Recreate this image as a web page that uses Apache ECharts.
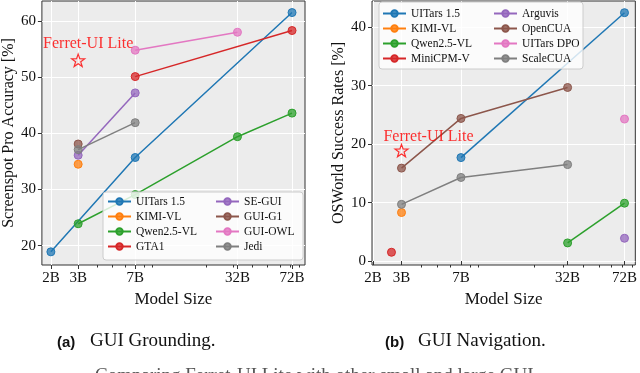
<!DOCTYPE html>
<html>
<head>
<meta charset="utf-8">
<script src="https://cdn.jsdelivr.net/npm/echarts@6/dist/echarts.min.js"></script>
<style>
  html, body { margin: 0; padding: 0; background: #fff; }
  #chart { width: 640px; height: 373px; }
</style>
</head>
<body>
<div id="chart"></div>
<script>
const sizeTicks = [2, 3, 7, 32, 72]
const minorTicks = [4, 5, 6, 8, 9, 20, 30, 40, 50, 60, 70, 80]
const groundTicks = [20, 30, 40, 50, 60]
const navTicks = [0, 10, 20, 30, 40]

// (a) GUI grounding: [model size in B, ScreenSpot-Pro accuracy %]
const groundUITars = [[2, 18.9], [7, 35.7], [72, 61.5]]
const groundKimi = [[3, 34.5]]
const groundQwen = [[3, 23.9], [7, 29.1], [32, 39.4], [72, 43.6]]
const groundGTA1 = [[7, 50.1], [72, 58.3]]
const groundSEGUI = [[3, 36.1], [7, 47.2]]
const groundG1 = [[3, 38.1]]
const groundOWL = [[7, 54.8], [32, 58.0]]
const groundJedi = [[3, 37.1], [7, 41.9]]
const groundFerret = [[3, 53.0]]

// (b) GUI navigation: [model size in B, OSWorld success %]
const navUITars = [[7, 17.7], [72, 42.5]]
const navKimi = [[3, 8.3]]
const navQwen = [[32, 3.1], [72, 9.9]]
const navMiniCPM = [[2.6, 1.5]]
const navArguvis = [[72, 3.9]]
const navOpenCUA = [[3, 15.9], [7, 24.4], [32, 29.7]]
const navDPO = [[72, 24.3]]
const navScaleCUA = [[3, 9.7], [7, 14.3], [32, 16.5]]
const navFerret = [[3, 18.9]]

const SERIF = 'Liberation Serif'
const C = {
  blue: '#1f77b4', orange: '#ff7f0e', green: '#2ca02c', red: '#d62728',
  purple: '#9467bd', brown: '#8c564b', pink: '#e377c2', gray: '#7f7f7f'
}
const STAR = 'path://M0,-10L2.35,-3.24L9.51,-3.09L3.8,1.24L5.88,8.09L0,4L-5.88,8.09L-3.8,1.24L-9.51,-3.09L-2.35,-3.24Z'

function fade(hex) {
  const n = parseInt(hex.slice(1), 16)
  return `rgba(${n >> 16},${(n >> 8) & 255},${n & 255},0.75)`
}

function line(name, data, color, idx) {
  return {
    name,
    type: 'line',
    data,
    xAxisIndex: idx,
    yAxisIndex: idx,
    symbol: 'circle',
    symbolSize: 8,
    lineStyle: { color, width: 1.5 },
    itemStyle: { color: fade(color), borderColor: color, borderWidth: 1 },
    emphasis: { disabled: true },
    z: 2
  }
}

function star(data, idx, offset) {
  return {
    type: 'scatter',
    data,
    xAxisIndex: idx,
    yAxisIndex: idx,
    symbol: STAR,
    symbolSize: 13,
    symbolKeepAspect: true,
    itemStyle: { color: 'rgba(255,0,0,0.05)', borderColor: '#ff0000', borderWidth: 1.2 },
    label: {
      show: true,
      formatter: 'Ferret-UI Lite',
      position: 'top',
      offset,
      color: '#ff0000',
      fontFamily: SERIF,
      fontSize: 16
    },
    z: 3
  }
}

function sizeAxis(grid, min, max) {
  return {
    type: 'log',
    gridIndex: grid,
    position: 'bottom',
    min,
    max,
    name: 'Model Size',
    nameLocation: 'middle',
    nameGap: 23,
    nameTextStyle: { fontFamily: SERIF, fontSize: 17, color: '#111' },
    axisLine: { show: false },
    axisTick: { show: true, length: 4, customValues: sizeTicks, lineStyle: { color: '#333' } },
    axisLabel: {
      customValues: sizeTicks,
      formatter: v => v + 'B',
      margin: 6,
      fontFamily: SERIF,
      fontSize: 15,
      color: '#111'
    },
    splitLine: { show: true, lineStyle: { color: '#ffffff', width: 1 } }
  }
}

// second bottom axis only for the small log-scale ticks
function minorAxis(grid, min, max) {
  return {
    type: 'log',
    gridIndex: grid,
    position: 'bottom',
    min,
    max,
    axisLine: { show: false },
    axisTick: { show: true, length: 2.5, customValues: minorTicks, lineStyle: { color: '#333' } },
    axisLabel: { show: false },
    splitLine: { show: false }
  }
}

function valueAxis(grid, min, max, ticks, name, gap) {
  return {
    type: 'value',
    gridIndex: grid,
    min,
    max,
    name,
    nameLocation: 'middle',
    nameGap: gap,
    nameTextStyle: { fontFamily: SERIF, fontSize: 16, color: '#111' },
    axisLine: { show: false },
    axisTick: { show: true, length: 4, customValues: ticks, lineStyle: { color: '#333' } },
    axisLabel: { customValues: ticks, margin: 6, fontFamily: SERIF, fontSize: 15, color: '#111' },
    splitLine: { show: true, lineStyle: { color: '#ffffff', width: 1 } }
  }
}

function legend(names, left, top) {
  return {
    data: names,
    orient: 'vertical',
    left,
    top,
    itemWidth: 23,
    itemHeight: 8,
    itemGap: 2,
    padding: 0,
    selectedMode: false,
    textStyle: { fontFamily: SERIF, fontSize: 11.5, color: '#111', lineHeight: 13 },
    z: 20
  }
}

const chart = echarts.init(document.getElementById('chart'))

chart.setOption({
  animation: false,
  grid: [
    { left: 41, top: 1, width: 264, height: 264, show: true, backgroundColor: '#ececec', borderColor: '#333', borderWidth: 1 },
    { left: 372, top: 1, width: 265, height: 264, show: true, backgroundColor: '#ececec', borderColor: '#333', borderWidth: 1 }
  ],
  xAxis: [
    sizeAxis(0, 1.75, 87.3),
    sizeAxis(1, 1.97, 84),
    minorAxis(0, 1.75, 87.3),
    minorAxis(1, 1.97, 84)
  ],
  yAxis: [
    valueAxis(0, 16.56, 63.56, groundTicks, 'Screenspot Pro Accuracy [%]', 20),
    valueAxis(1, -0.68, 44.5, navTicks, 'OSWorld Success Rates [%]', 21)
  ],
  legend: [
    legend(['UITars 1.5', 'KIMI-VL', 'Qwen2.5-VL', 'GTA1'], 107, 195),
    legend(['SE-GUI', 'GUI-G1', 'GUI-OWL', 'Jedi'], 215, 195),
    legend(['UITars 1.5', 'KIMI-VL', 'Qwen2.5-VL', 'MiniCPM-V'], 382, 7),
    legend(['Arguvis', 'OpenCUA', 'UITars DPO', 'ScaleCUA'], 493, 7)
  ],
  graphic: [
    { type: 'rect', z: 10, shape: { x: 103, y: 192, width: 200, height: 68, r: 3 }, style: { fill: 'rgba(255,255,255,0.8)', stroke: '#cccccc', lineWidth: 1 } },
    { type: 'rect', z: 10, shape: { x: 379, y: 2, width: 204, height: 67, r: 3 }, style: { fill: 'rgba(255,255,255,0.8)', stroke: '#cccccc', lineWidth: 1 } },
    { type: 'text', left: 57, top: 335, style: { text: '(a)', font: 'bold 15px "Liberation Sans"', fill: '#111' } },
    { type: 'text', left: 90, top: 332, style: { text: 'GUI Grounding.', font: '19px "Liberation Serif"', fill: '#111' } },
    { type: 'text', left: 385, top: 335, style: { text: '(b)', font: 'bold 15px "Liberation Sans"', fill: '#111' } },
    { type: 'text', left: 418, top: 332, style: { text: 'GUI Navigation.', font: '19px "Liberation Serif"', fill: '#111' } },
    { type: 'text', left: 95, top: 367, style: { text: 'Comparing Ferret-UI Lite with other small and large GUI', font: '19px "Liberation Serif"', fill: '#555' } }
  ],
  series: [
    line('UITars 1.5', groundUITars, C.blue, 0),
    line('KIMI-VL', groundKimi, C.orange, 0),
    line('Qwen2.5-VL', groundQwen, C.green, 0),
    line('GTA1', groundGTA1, C.red, 0),
    line('SE-GUI', groundSEGUI, C.purple, 0),
    line('GUI-G1', groundG1, C.brown, 0),
    line('GUI-OWL', groundOWL, C.pink, 0),
    line('Jedi', groundJedi, C.gray, 0),
    star(groundFerret, 0, [10, 3]),

    line('UITars 1.5', navUITars, C.blue, 1),
    line('KIMI-VL', navKimi, C.orange, 1),
    line('Qwen2.5-VL', navQwen, C.green, 1),
    line('MiniCPM-V', navMiniCPM, C.red, 1),
    line('Arguvis', navArguvis, C.purple, 1),
    line('OpenCUA', navOpenCUA, C.brown, 1),
    line('UITars DPO', navDPO, C.pink, 1),
    line('ScaleCUA', navScaleCUA, C.gray, 1),
    star(navFerret, 1, [27, 6])
  ]
})
</script>
</body>
</html>
